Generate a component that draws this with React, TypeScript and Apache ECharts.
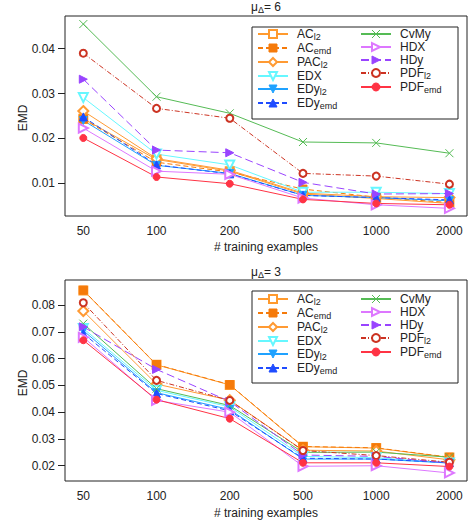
import React, { useEffect, useRef } from 'react';
import * as echarts from 'echarts';

const categories = ['50', '100', '200', '500', '1000', '2000'];
const yTicksTop = [0.01, 0.02, 0.03, 0.04];
const yTicksBottom = [0.02, 0.03, 0.04, 0.05, 0.06, 0.07, 0.08];
const methodNames = ['AC_l2', 'AC_emd', 'PAC_l2', 'EDX', 'EDy_l2', 'EDy_emd', 'CvMy', 'HDX', 'HDy', 'PDF_l2', 'PDF_emd'];
const titleTop = '6';
const titleBottom = '3';

// mu_Delta = 6
const top_AC_l2 = [0.0244, 0.0153, 0.0127, 0.0076, 0.0066, 0.0055];
const top_AC_emd = [0.0243, 0.0147, 0.0125, 0.0087, 0.0069, 0.0057];
const top_PAC_l2 = [0.0261, 0.0155, 0.0129, 0.0078, 0.007, 0.0068];
const top_EDX = [0.0291, 0.0165, 0.0141, 0.008, 0.008, 0.0077];
const top_EDy_l2 = [0.024, 0.014, 0.0122, 0.0073, 0.0068, 0.0061];
const top_EDy_emd = [0.0248, 0.0141, 0.0121, 0.0073, 0.0068, 0.0063];
const top_CvMy = [0.0455, 0.0293, 0.0256, 0.0192, 0.019, 0.0167];
const top_HDX = [0.0223, 0.0127, 0.012, 0.0067, 0.0052, 0.0044];
const top_HDy = [0.0332, 0.0174, 0.0168, 0.0102, 0.0076, 0.0077];
const top_PDF_l2 = [0.039, 0.0267, 0.0245, 0.0122, 0.0116, 0.0098];
const top_PDF_emd = [0.0201, 0.0114, 0.0099, 0.0064, 0.0055, 0.0052];

// mu_Delta = 3
const bot_AC_l2 = [0.0855, 0.0577, 0.0502, 0.0271, 0.0266, 0.0231];
const bot_AC_emd = [0.0856, 0.0578, 0.0503, 0.0272, 0.0267, 0.0232];
const bot_PAC_l2 = [0.0778, 0.0505, 0.0445, 0.0258, 0.0255, 0.0222];
const bot_EDX = [0.0713, 0.0482, 0.042, 0.0235, 0.023, 0.021];
const bot_EDy_l2 = [0.0705, 0.0473, 0.041, 0.0225, 0.0225, 0.021];
const bot_EDy_emd = [0.0694, 0.047, 0.0405, 0.0228, 0.0225, 0.0212];
const bot_CvMy = [0.0731, 0.0488, 0.0425, 0.025, 0.0251, 0.0232];
const bot_HDX = [0.068, 0.0444, 0.04, 0.0198, 0.02, 0.0173];
const bot_HDy = [0.0719, 0.056, 0.044, 0.024, 0.0235, 0.021];
const bot_PDF_l2 = [0.0809, 0.0519, 0.0444, 0.0257, 0.0238, 0.0213];
const bot_PDF_emd = [0.0669, 0.0447, 0.0376, 0.0211, 0.0211, 0.0197];

const topData: Record<string, number[]> = {
  AC_l2: top_AC_l2, AC_emd: top_AC_emd, PAC_l2: top_PAC_l2, EDX: top_EDX, EDy_l2: top_EDy_l2,
  EDy_emd: top_EDy_emd, CvMy: top_CvMy, HDX: top_HDX, HDy: top_HDy, PDF_l2: top_PDF_l2, PDF_emd: top_PDF_emd,
};
const botData: Record<string, number[]> = {
  AC_l2: bot_AC_l2, AC_emd: bot_AC_emd, PAC_l2: bot_PAC_l2, EDX: bot_EDX, EDy_l2: bot_EDy_l2,
  EDy_emd: bot_EDy_emd, CvMy: bot_CvMy, HDX: bot_HDX, HDy: bot_HDy, PDF_l2: bot_PDF_l2, PDF_emd: bot_PDF_emd,
};

const XPATH = 'path://M0,0L10,10M10,0L0,10';

const styles: Record<string, any> = {
  AC_l2: { color: '#ff9a2e', symbol: 'emptyRect', size: 8, rot: 0, dash: 'solid' },
  AC_emd: { color: '#f57a0a', symbol: 'rect', size: 8, rot: 0, dash: [5, 3] },
  PAC_l2: { color: '#ff9a33', symbol: 'emptyDiamond', size: 10, rot: 0, dash: 'solid' },
  EDX: { color: '#66f7ff', symbol: 'emptyTriangle', size: 9, rot: 180, dash: 'solid' },
  EDy_l2: { color: '#1fa2ff', symbol: 'triangle', size: 8, rot: 180, dash: 'solid' },
  EDy_emd: { color: '#1f4cff', symbol: 'triangle', size: 8, rot: 0, dash: [5, 3] },
  CvMy: { color: '#55bb55', symbol: XPATH, size: 8, rot: 0, dash: 'solid' },
  HDX: { color: '#dd77ff', symbol: 'emptyTriangle', size: 9, rot: -90, dash: 'solid' },
  HDy: { color: '#9944ff', symbol: 'triangle', size: 8, rot: -90, dash: [8, 4] },
  PDF_l2: { color: '#cc3322', symbol: 'emptyCircle', size: 7, rot: 0, dash: [5, 2, 1, 2] },
  PDF_emd: { color: '#ff3344', symbol: 'circle', size: 7, rot: 0, dash: 'solid' },
};

const FONT = 'Liberation Sans';
const TXT = '#222';

const richText = {
  a: { fontSize: 12, lineHeight: 14, color: TXT, fontFamily: FONT, fontWeight: 'normal' },
  s: { fontSize: 9, lineHeight: 8, verticalAlign: 'bottom', color: TXT, fontFamily: FONT, fontWeight: 'normal' },
};

function fmtName(name: string) {
  const parts = name.split('_');
  return parts.length > 1 ? `{a|${parts[0]}}{s|${parts[1]}}` : `{a|${name}}`;
}

function makeSeries(panel: number, data: Record<string, number[]>) {
  return methodNames.map((m) => {
    const st = styles[m];
    return {
      type: 'line',
      name: m,
      xAxisIndex: panel,
      yAxisIndex: panel,
      data: data[m].map((v, i) => [i + 1, v]),
      symbol: st.symbol,
      symbolSize: st.size,
      symbolRotate: st.rot,
      showAllSymbol: true,
      lineStyle: { color: st.color, width: 1, type: st.dash },
      itemStyle: { color: st.color, borderColor: st.color, borderWidth: 1 },
      emphasis: { disabled: true },
    };
  });
}

function legendFor(names: string[], left: number, top: number) {
  return {
    data: names,
    orient: 'vertical',
    left,
    top,
    padding: 0,
    itemWidth: 30,
    itemHeight: 10,
    itemGap: 1,
    selectedMode: false,
    formatter: fmtName,
    itemStyle: { borderWidth: 1 },
    textStyle: { padding: [0, 0, 0, 4], rich: richText },
    z: 10,
  };
}

function xAxisFor(panel: number, gap: number) {
  return {
    type: 'value',
    gridIndex: panel,
    min: 0.75,
    max: 6.24,
    axisLine: { show: false },
    axisTick: { show: false },
    splitLine: { show: false },
    axisLabel: {
      customValues: [1, 2, 3, 4, 5, 6],
      formatter: (v: number) => categories[Math.round(v) - 1] ?? '',
      color: TXT,
      fontSize: 12,
      fontFamily: FONT,
      margin: 9,
    },
    name: '# training examples',
    nameLocation: 'middle',
    nameGap: gap,
    nameTextStyle: { color: TXT, fontSize: 12, fontFamily: FONT },
  };
}

function yAxisFor(panel: number, min: number, max: number, ticks: number[]) {
  return {
    type: 'value',
    gridIndex: panel,
    min,
    max,
    axisLine: { show: false },
    axisTick: { show: true, customValues: ticks, length: 7, inside: false, lineStyle: { color: '#222', width: 1 } },
    splitLine: { show: false },
    axisLabel: {
      customValues: ticks,
      formatter: (v: number) => v.toFixed(2),
      color: TXT,
      fontSize: 12,
      fontFamily: FONT,
      margin: 10,
    },
  };
}

export default function App() {
  const ref = useRef<HTMLDivElement>(null);
  useEffect(() => {
    if (!ref.current) return;
    const chart = echarts.init(ref.current, null, { renderer: 'svg' });
    const leftNames = methodNames.slice(0, 6);
    const rightNames = methodNames.slice(6);
    const yName = (y: number) => ({
      type: 'text', x: 23, y, rotation: Math.PI / 2,
      style: { text: 'EMD', fontSize: 12, fontFamily: FONT, fill: TXT, align: 'center', verticalAlign: 'middle' },
    });
    chart.setOption({
      animation: false,
      backgroundColor: '#fff',
      title: [
        { text: `{a|μ}{s|Δ}{a|= ${titleTop}}`, left: 266, top: 0, textAlign: 'center', padding: 0, textStyle: { fontWeight: 'normal', rich: richText } },
        { text: `{a|μ}{s|Δ}{a|= ${titleBottom}}`, left: 266, top: 265, textAlign: 'center', padding: 0, textStyle: { fontWeight: 'normal', rich: richText } },
      ],
      grid: [
        { left: 65, top: 16, width: 402, height: 200, show: true, borderColor: '#222', borderWidth: 1, backgroundColor: 'transparent' },
        { left: 65, top: 280, width: 402, height: 201, show: true, borderColor: '#222', borderWidth: 1, backgroundColor: 'transparent' },
      ],
      xAxis: [xAxisFor(0, 25), xAxisFor(1, 26)],
      yAxis: [yAxisFor(0, 0.0027, 0.0473, yTicksTop), yAxisFor(1, 0.0143, 0.0894, yTicksBottom)],
      legend: [
        legendFor(leftNames, 257, 28),
        legendFor(rightNames, 360, 28),
        legendFor(leftNames, 257, 293),
        legendFor(rightNames, 360, 293),
      ],
      graphic: [
        { type: 'rect', z: 5, shape: { x: 252, y: 27, width: 206, height: 92 }, style: { fill: '#fff', stroke: '#222', lineWidth: 1 } },
        { type: 'rect', z: 5, shape: { x: 252, y: 291, width: 206, height: 92 }, style: { fill: '#fff', stroke: '#222', lineWidth: 1 } },
        yName(118),
        yName(383),
      ],
      series: [...makeSeries(0, topData), ...makeSeries(1, botData)],
    });
    return () => chart.dispose();
  }, []);
  return <div ref={ref} style={{ position: 'fixed', left: 0, top: 0, width: 471, height: 525 }} />;
}
